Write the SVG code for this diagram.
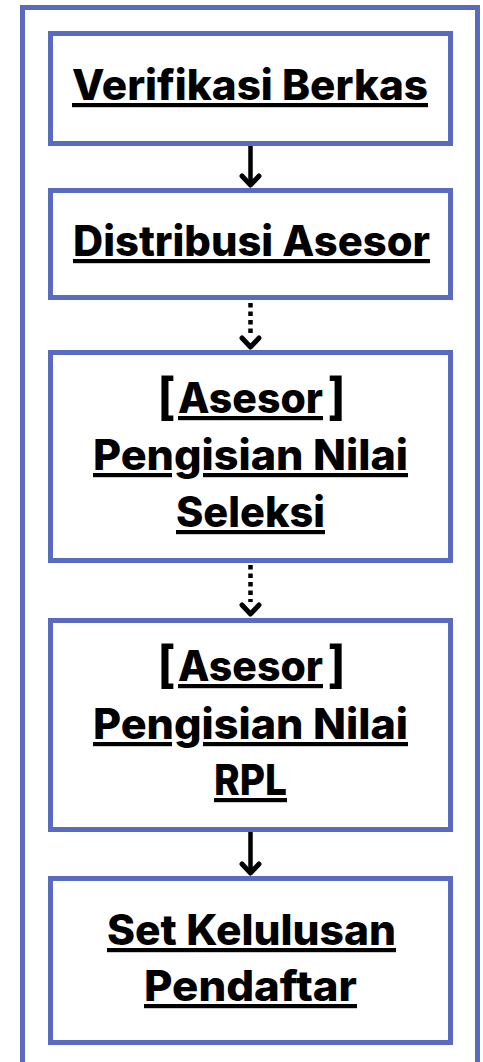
<svg xmlns="http://www.w3.org/2000/svg" width="483" height="1062" viewBox="0 0 483 1062">
<defs>
<style>
.frame{fill:#fff;stroke:#5a6abf;stroke-width:5}
.box{fill:#fff;stroke:#5a6abf;stroke-width:5}
.t{font-family:Inter,"Liberation Sans",sans-serif;font-weight:800;font-size:42px;fill:#000;text-anchor:middle}
.u{text-decoration:underline;text-decoration-thickness:4px;text-underline-offset:4px}
.br{font-family:Inter,"Liberation Sans",sans-serif;font-weight:700;font-size:50px;fill:#000}
.line{stroke:#000;stroke-width:4.5;fill:none}
.dot{stroke:#000;stroke-width:4.5;fill:none;stroke-dasharray:4.5 4}
.head{stroke:#000;stroke-width:5;fill:none;stroke-linecap:round;stroke-linejoin:round}
</style>
</defs>
<rect width="483" height="1062" fill="#fff"/>
<rect id="frame" class="frame" x="22.5" y="7.5" width="455" height="1100"/>

<g id="connectors">
  <line class="line" x1="250.5" y1="146" x2="250.5" y2="184"/>
  <polyline class="head" points="242,176 250.5,185 259,176"/>
  <line class="dot" x1="250.5" y1="303" x2="250.5" y2="335"/>
  <polyline class="head" points="242,338 250.5,347 259,338"/>
  <line class="dot" x1="250.5" y1="565" x2="250.5" y2="602"/>
  <polyline class="head" points="242,605 250.5,614 259,605"/>
  <line class="line" x1="250.5" y1="832" x2="250.5" y2="872"/>
  <polyline class="head" points="242,864 250.5,873 259,864"/>
</g>

<g id="node1">
  <rect class="box" x="50.5" y="33.5" width="400" height="110"/>
  <text class="t u" x="250" y="100" textLength="356" lengthAdjust="spacingAndGlyphs">Verifikasi Berkas</text>
</g>

<g id="node2">
  <rect class="box" x="50.5" y="190.5" width="400" height="107"/>
  <text class="t u" x="251.5" y="256" textLength="357" lengthAdjust="spacingAndGlyphs">Distribusi Asesor</text>
</g>

<g id="node3">
  <rect class="box" x="50.5" y="352.5" width="400" height="208"/>
  <text class="br" x="157" y="414">[</text>
  <text class="t u" x="250.5" y="413" textLength="145" lengthAdjust="spacingAndGlyphs">Asesor</text>
  <text class="br" x="346" y="414" text-anchor="end">]</text>
  <text class="t u" x="250.5" y="470" textLength="315" lengthAdjust="spacingAndGlyphs">Pengisian Nilai</text>
  <text class="t u" x="250.5" y="527" textLength="149" lengthAdjust="spacingAndGlyphs">Seleksi</text>
</g>

<g id="node4">
  <rect class="box" x="50.5" y="620.5" width="400" height="209"/>
  <text class="br" x="157" y="682">[</text>
  <text class="t u" x="250.5" y="681" textLength="145" lengthAdjust="spacingAndGlyphs">Asesor</text>
  <text class="br" x="346" y="682" text-anchor="end">]</text>
  <text class="t u" x="250.5" y="739" textLength="315" lengthAdjust="spacingAndGlyphs">Pengisian Nilai</text>
  <text class="t u" x="250.5" y="795" textLength="73" lengthAdjust="spacingAndGlyphs">RPL</text>
</g>

<g id="node5">
  <rect class="box" x="50.5" y="878.5" width="400" height="164"/>
  <text class="t u" x="251.5" y="945" textLength="289" lengthAdjust="spacingAndGlyphs">Set Kelulusan</text>
  <text class="t u" x="250.5" y="1001" textLength="213" lengthAdjust="spacingAndGlyphs">Pendaftar</text>
</g>
</svg>
